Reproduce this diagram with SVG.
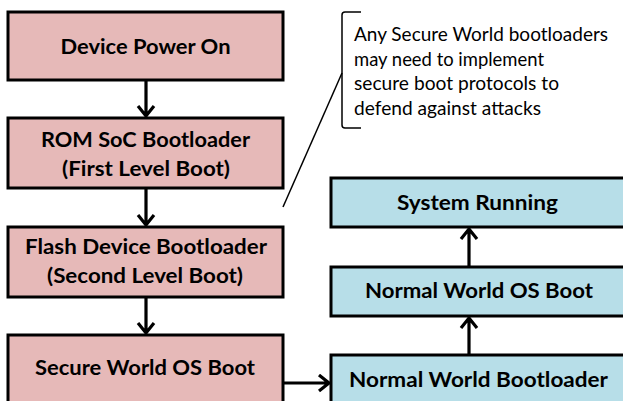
<svg xmlns="http://www.w3.org/2000/svg" width="623" height="401" viewBox="0 0 623 401">
  <style>
    .box { stroke: #000; stroke-width: 3; }
    .secure { fill: #E6B9B8; }
    .normal { fill: #B7DEE8; }
    .label { font-family: Lato, "Open Sans", "Liberation Sans", sans-serif; font-weight: 700; font-size: 21.5px; fill: #000; text-anchor: middle; }
    .note { font-family: Lato, "Open Sans", "Liberation Sans", sans-serif; font-size: 19px; fill: #000; }
    .wire { fill: none; stroke: #000; stroke-width: 3.2; }
    .thin { fill: none; stroke: #000; stroke-width: 1.5; }
  </style>
  <rect width="623" height="401" fill="#fff"/>

  <g id="connectors">
    <!-- secure-world chain, top to bottom -->
    <path class="wire" d="M146,80 V116 M138,106 L146,116 L154,106"/>
    <path class="wire" d="M146,188 V225 M138,215 L146,225 L154,215"/>
    <path class="wire" d="M146,297 V333 M138,323 L146,333 L154,323"/>
    <!-- hand-off to the normal world -->
    <path class="wire" d="M283,383 H329 M319,375 L329,383 L319,391"/>
    <!-- normal-world chain, bottom to top -->
    <path class="wire" d="M469,355 V318 M461,328 L469,318 L477,328"/>
    <path class="wire" d="M469,267 V229 M461,239 L469,229 L477,239"/>
  </g>

  <g id="device-power-on">
    <rect class="box secure" x="8" y="12" width="275" height="68"/>
    <text class="label" x="145.5" y="54" textLength="170" lengthAdjust="spacingAndGlyphs">Device Power On</text>
  </g>

  <g id="rom-soc-bootloader">
    <rect class="box secure" x="8" y="118" width="275" height="70"/>
    <text class="label" x="145.5" y="147" textLength="209" lengthAdjust="spacingAndGlyphs">ROM SoC Bootloader</text>
    <text class="label" x="146" y="176" textLength="168" lengthAdjust="spacingAndGlyphs">(First Level Boot)</text>
  </g>

  <g id="flash-device-bootloader">
    <rect class="box secure" x="8" y="227" width="275" height="70"/>
    <text class="label" x="146" y="254" textLength="242" lengthAdjust="spacingAndGlyphs">Flash Device Bootloader</text>
    <text class="label" x="145" y="283" textLength="196" lengthAdjust="spacingAndGlyphs">(Second Level Boot)</text>
  </g>

  <g id="secure-world-os-boot">
    <rect class="box secure" x="8" y="335" width="275" height="80"/>
    <text class="label" x="145" y="375" textLength="220" lengthAdjust="spacingAndGlyphs">Secure World OS Boot</text>
  </g>

  <g id="system-running">
    <rect class="box normal" x="331" y="178" width="300" height="49"/>
    <text class="label" x="477.5" y="210" textLength="161" lengthAdjust="spacingAndGlyphs">System Running</text>
  </g>

  <g id="normal-world-os-boot">
    <rect class="box normal" x="331" y="267" width="300" height="49"/>
    <text class="label" x="479" y="298" textLength="228" lengthAdjust="spacingAndGlyphs">Normal World OS Boot</text>
  </g>

  <g id="normal-world-bootloader">
    <rect class="box normal" x="331" y="355" width="300" height="60"/>
    <text class="label" x="478.5" y="387" textLength="259" lengthAdjust="spacingAndGlyphs">Normal World Bootloader</text>
  </g>

  <g id="secure-boot-note">
    <path class="thin" d="M361,12 H345 Q342,12 342,15 V125 Q342,128 345,128 H361"/>
    <path class="thin" d="M342,73 L283,207"/>
    <text class="note" x="354" y="41" textLength="254" lengthAdjust="spacingAndGlyphs">Any Secure World bootloaders</text>
    <text class="note" x="354" y="65.5" textLength="190" lengthAdjust="spacingAndGlyphs">may need to implement</text>
    <text class="note" x="354" y="90" textLength="205" lengthAdjust="spacingAndGlyphs">secure boot protocols to</text>
    <text class="note" x="354" y="114.5" textLength="187" lengthAdjust="spacingAndGlyphs">defend against attacks</text>
  </g>
</svg>
